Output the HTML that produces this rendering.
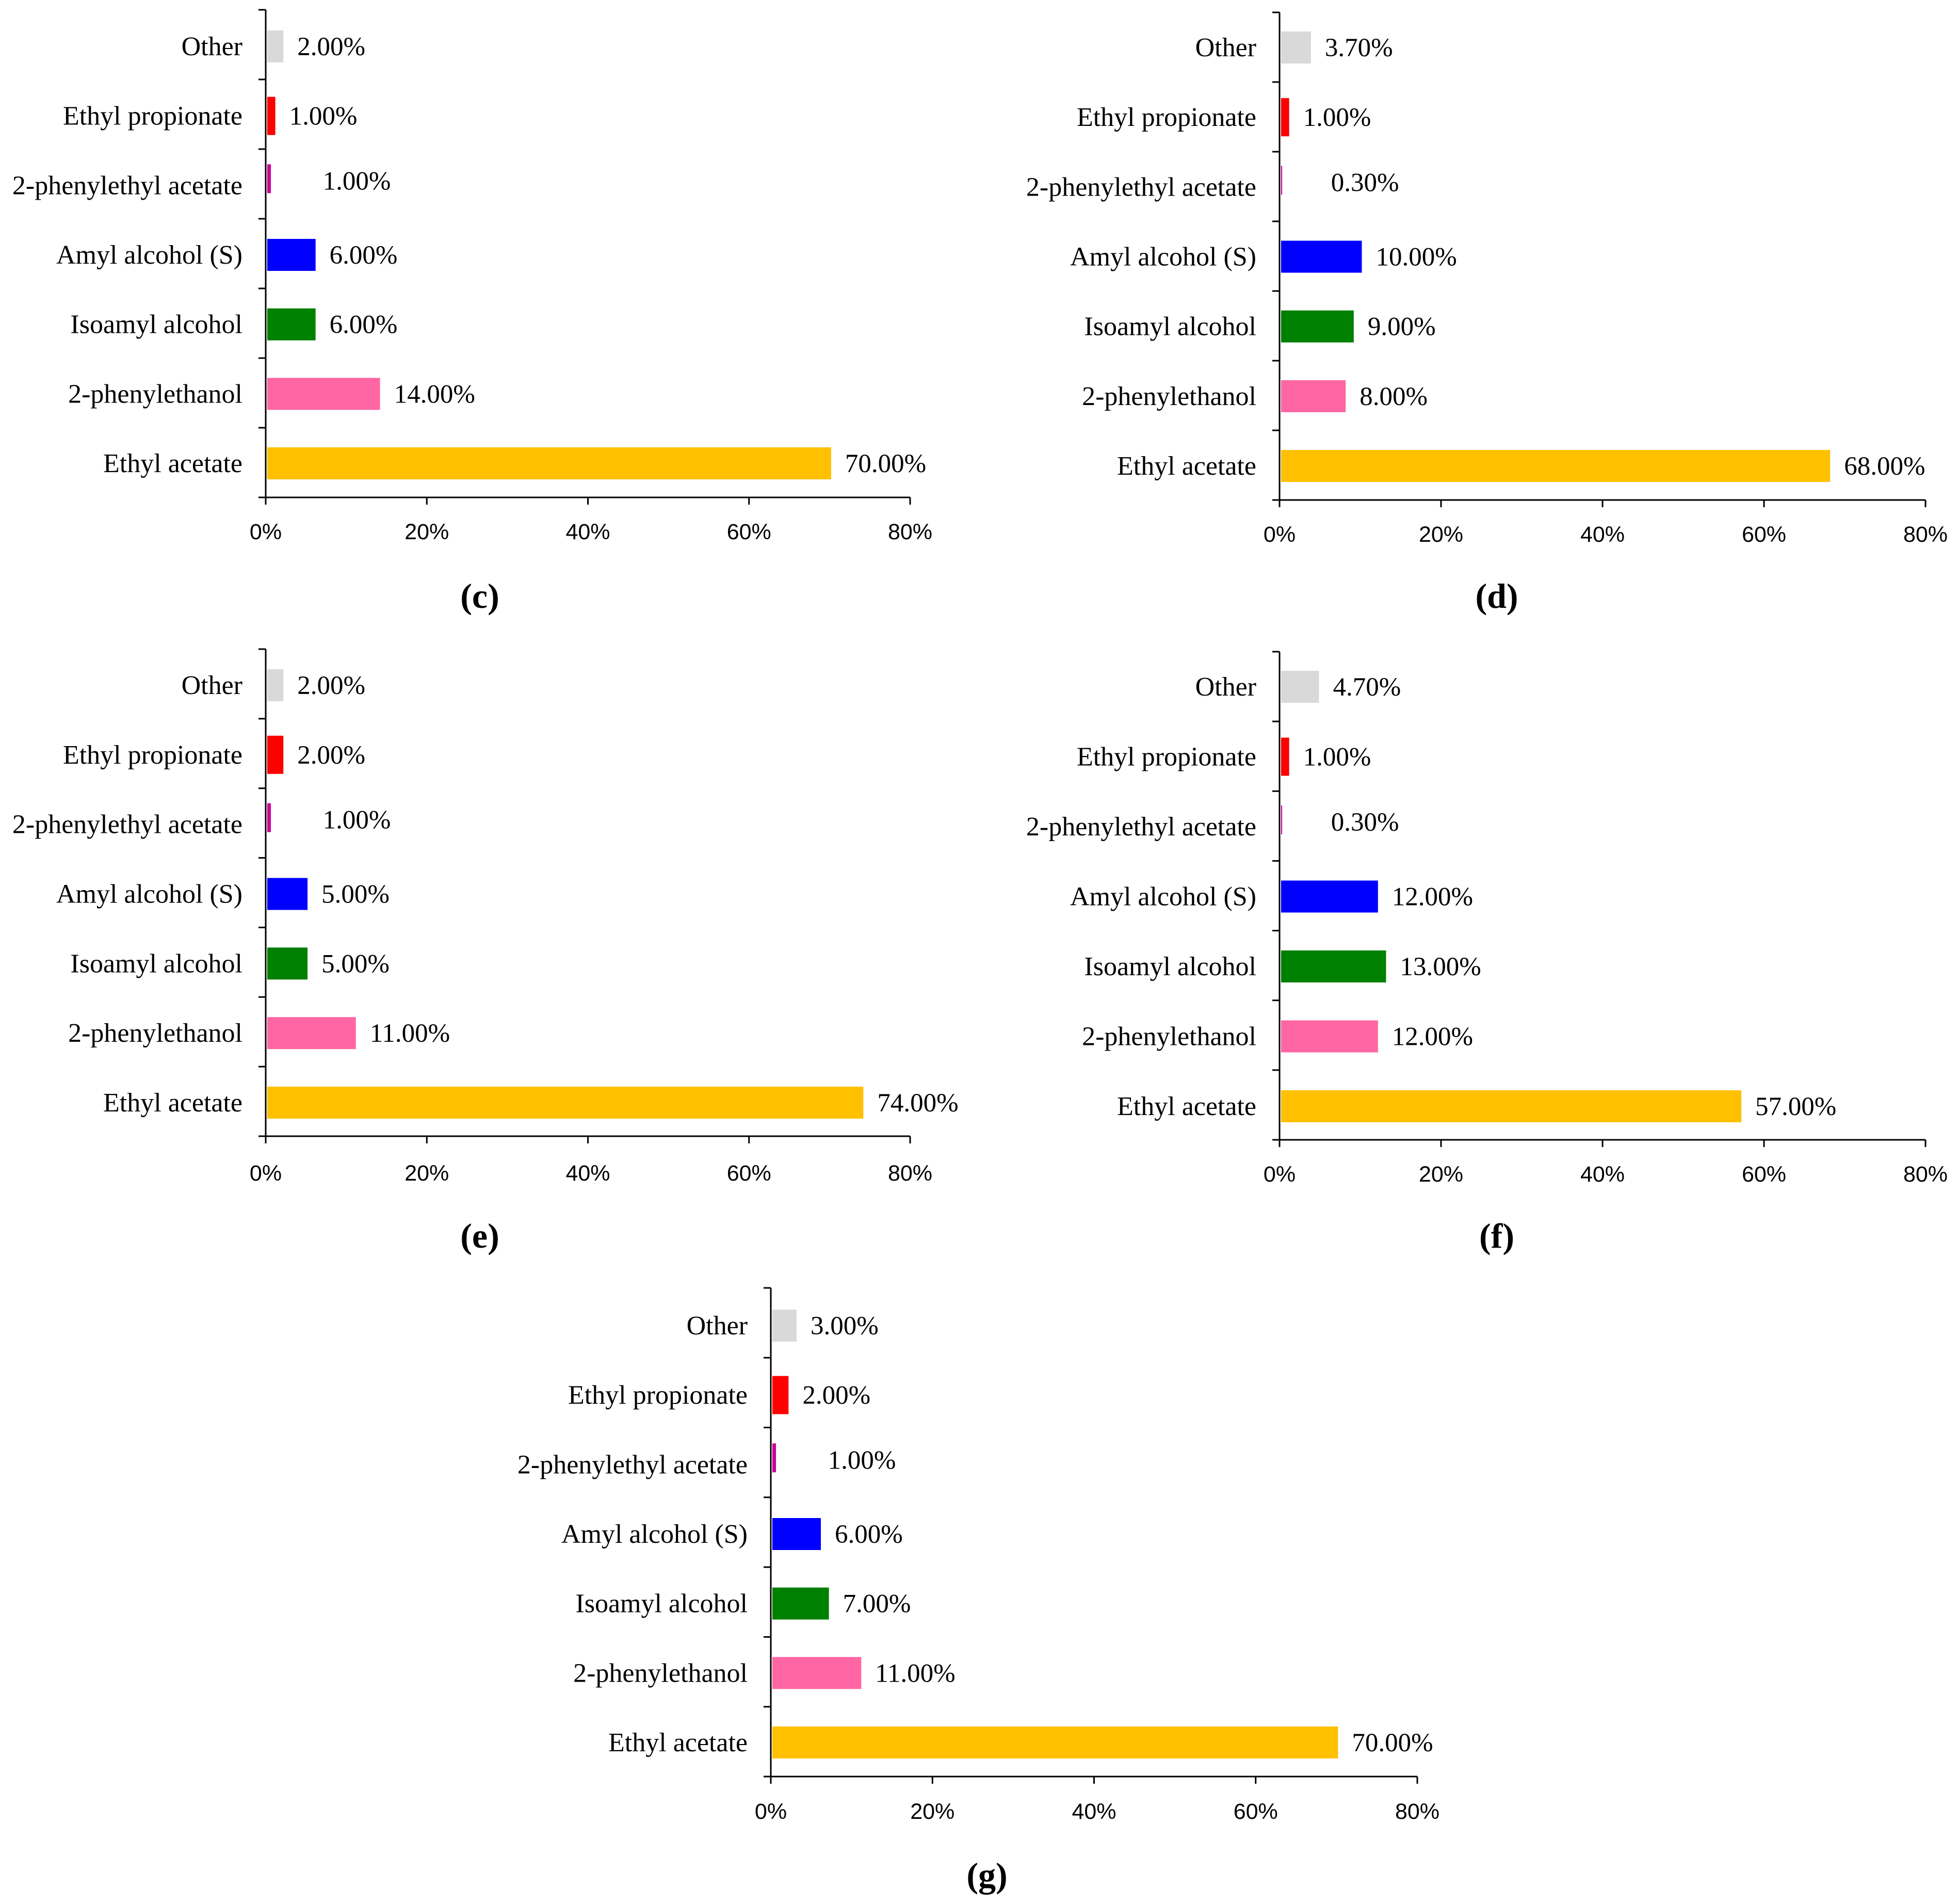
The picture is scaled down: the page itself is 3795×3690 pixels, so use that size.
<!DOCTYPE html>
<html><head><meta charset="utf-8">
<style>
html,body{margin:0;padding:0;background:#fff;}
svg{display:block;}
.cat{font-family:"Liberation Serif",serif;font-size:52px;fill:#000;}
.val{font-family:"Liberation Serif",serif;font-size:51px;fill:#000;}
.tick{font-family:"Liberation Sans",sans-serif;font-size:43px;fill:#000;}
.cap{font-family:"Liberation Serif",serif;font-size:68px;font-weight:bold;fill:#000;}
</style></head>
<body>
<svg id="chart" width="3795" height="3690" viewBox="0 0 3795 3690" xmlns="http://www.w3.org/2000/svg"></svg>
<script>
const categories = ["Other","Ethyl propionate","2-phenylethyl acetate","Amyl alcohol (S)","Isoamyl alcohol","2-phenylethanol","Ethyl acetate"];
const colors = ["#d9d9d9","#ff0000","#cc0099","#0000ff","#008000","#ff66a3","#ffc000"];
const tickValues = [0,20,40,60,80];
const tickLabels = ["0%","20%","40%","60%","80%"];
const valuesC = [2,1,1,6,6,14,70];
const valuesD = [3.7,1,0.3,10,9,8,68];
const valuesE = [2,2,1,5,5,11,74];
const valuesF = [4.7,1,0.3,12,13,12,57];
const valuesG = [3,2,1,6,7,11,70];
const labelsC = ["2.00%","1.00%","1.00%","6.00%","6.00%","14.00%","70.00%"];
const labelsD = ["3.70%","1.00%","0.30%","10.00%","9.00%","8.00%","68.00%"];
const labelsE = ["2.00%","2.00%","1.00%","5.00%","5.00%","11.00%","74.00%"];
const labelsF = ["4.70%","1.00%","0.30%","12.00%","13.00%","12.00%","57.00%"];
const labelsG = ["3.00%","2.00%","1.00%","6.00%","7.00%","11.00%","70.00%"];

const panels = [
  {id:"c",vals:valuesC,labs:labelsC,x0:515,x1:1764,top:19,bot:964,r0:90,r6:898,tickY:1045,capX:930,capY:1178},
  {id:"d",vals:valuesD,labs:labelsD,x0:2480,x1:3732,top:24,bot:969,r0:92,r6:903,tickY:1050,capX:2901,capY:1178},
  {id:"e",vals:valuesE,labs:labelsE,x0:515,x1:1764,top:1258,bot:2202,r0:1328,r6:2137,tickY:2288,capX:930,capY:2418},
  {id:"f",vals:valuesF,labs:labelsF,x0:2480,x1:3732,top:1263,bot:2209,r0:1331,r6:2144,tickY:2290,capX:2901,capY:2418},
  {id:"g",vals:valuesG,labs:labelsG,x0:1494,x1:2747,top:2496,bot:3443,r0:2569,r6:3377,tickY:3525,capX:1913,capY:3657}
];
const NS="http://www.w3.org/2000/svg";
const svg=document.getElementById('chart');
function mk(tag,attrs,parent){const e=document.createElementNS(NS,tag);for(const k in attrs)e.setAttribute(k,attrs[k]);parent.appendChild(e);return e;}

panels.forEach(p=>{
  const g=mk('g',{},svg);
  
  
  const xs=v=>p.x0+(v/80)*(p.x1-p.x0);
  const step=(p.r6-p.r0)/6;
  const ys=i=>p.r0+i*step;
  const ya=mk('line',{x1:p.x0,y1:p.top,x2:p.x0,y2:p.bot,stroke:'#000','stroke-width':3},g);
  
  
  const xa=mk('line',{x1:p.x0,y1:p.bot,x2:p.x1,y2:p.bot,stroke:'#000','stroke-width':3},g);
  
  
  for(let i=0;i<=7;i++){
    const y=p.top+(p.bot-p.top)*i/7;
    mk('line',{x1:p.x0-14,y1:y,x2:p.x0,y2:y,stroke:'#000','stroke-width':3},g);
  }
  tickValues.forEach((t,i)=>{
    const x=xs(t);
    mk('line',{x1:x,y1:p.bot,x2:x,y2:p.bot+14,stroke:'#000','stroke-width':3},g);
    const tl=mk('text',{x:x,y:p.tickY,'text-anchor':'middle',class:'tick'},g);
    tl.textContent=tickLabels[i];
    
    
  });
  categories.forEach((c,i)=>{
    const y=ys(i);
    const cl=mk('text',{x:p.x0-45,y:y+17,'text-anchor':'end',class:'cat'},g);
    cl.textContent=c;
    
    
    const v=p.vals[i];
    const bh=(i===1||i===2)?74:62;
    const bw=(i===2)?Math.max(0,xs(v)-p.x0)*0.45:xs(v)-p.x0;
    const r=mk('rect',{x:p.x0+3,y:y-(i===2?bh/2+4:bh/2),width:Math.max(0,bw),height:(i===2?56:bh),fill:colors[i]},g);
    
    
    const vl=mk('text',{x:xs(v)+(i===2?95:30),y:y+(i===2?8:17),class:'val'},g);
    vl.textContent=p.labs[i];
    
    
  });
  const cap=mk('text',{x:p.capX,y:p.capY,'text-anchor':'middle',class:'cap'},g);
  cap.textContent='('+p.id+')';
  
  
});
</script>
</body></html>
